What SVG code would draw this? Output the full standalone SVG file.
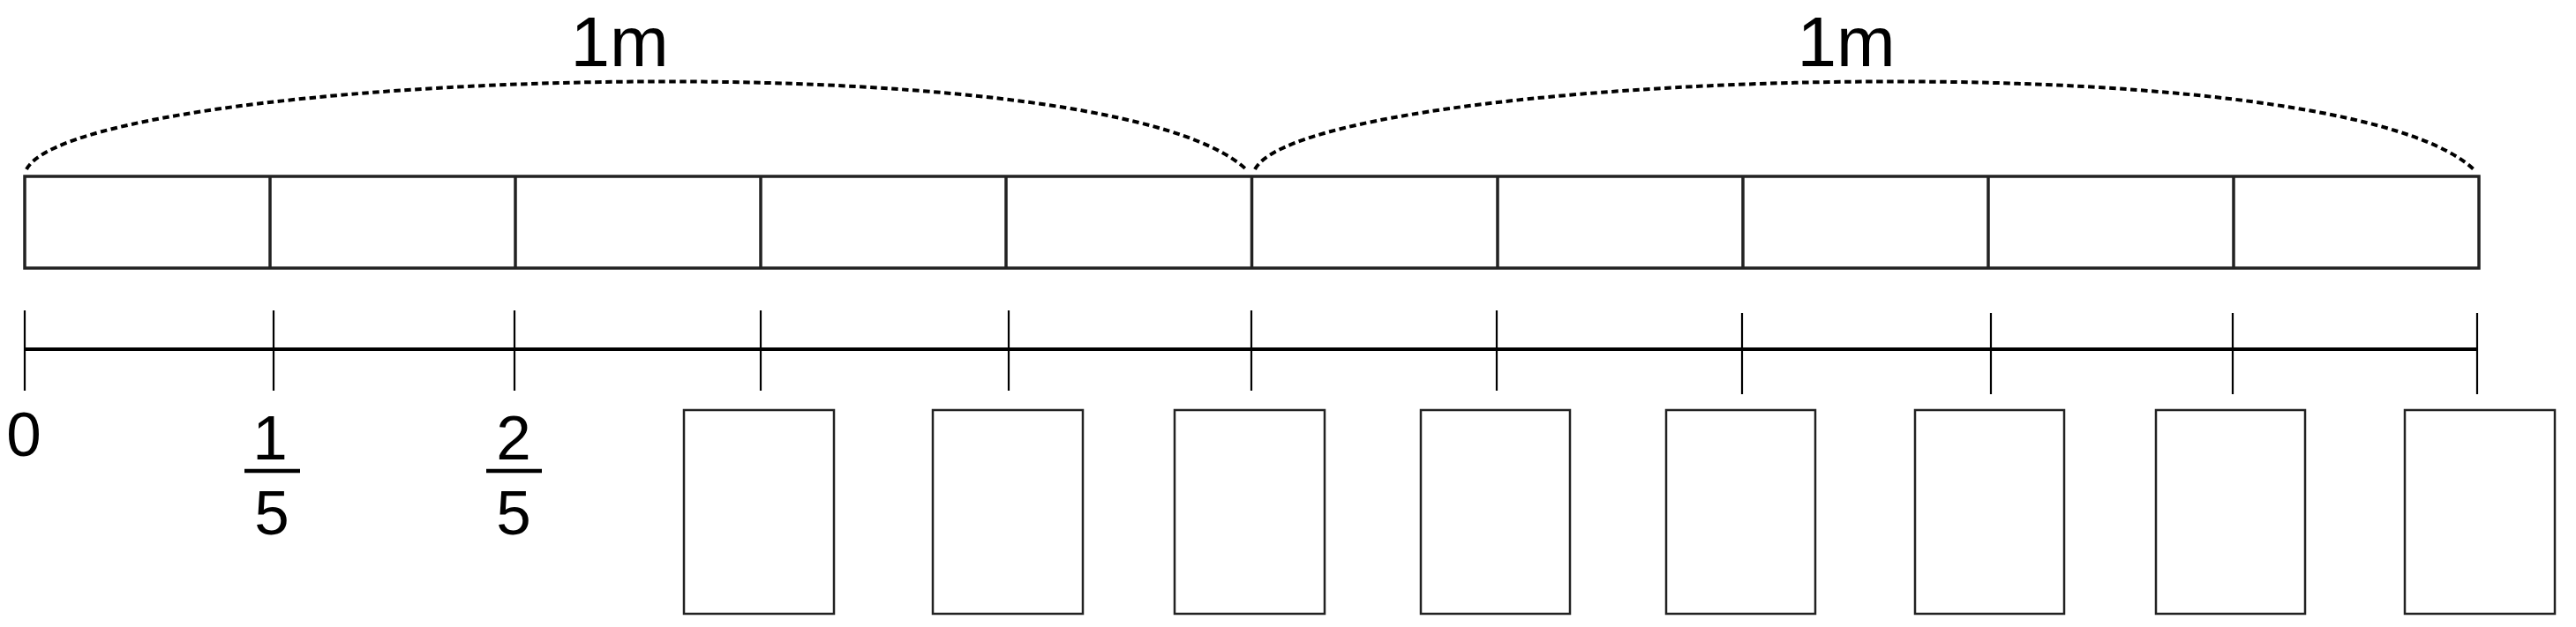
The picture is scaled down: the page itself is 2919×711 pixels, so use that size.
<svg xmlns="http://www.w3.org/2000/svg" width="2919" height="711" viewBox="0 0 2919 711">
<style>
.bar{fill:none;stroke:#222;stroke-width:3.5}
.box{fill:#fff;stroke:#222;stroke-width:2.5}
.dash{fill:none;stroke:#000;stroke-width:4;stroke-dasharray:7.5 4.5}
.axis{stroke:#000;stroke-width:4}
.tick{stroke:#000;stroke-width:2.2}
.frac{stroke:#000;stroke-width:4.5}
text{font-family:"Liberation Sans",Arial,sans-serif;fill:#000;text-anchor:middle}
.lab{font-size:80px}
.num{font-size:71px}
</style>
<rect width="2919" height="711" fill="#fff"/>
<g id="bar">
<rect class="bar" x="28" y="200" width="2781" height="104"/>
<path class="bar" d="M306 200V304M584 200V304M862 200V304M1140 200V304M1418.5 200V304M1697 200V304M1975 200V304M2253 200V304M2531 200V304"/>
</g>
<g id="connectors">
<path class="dash" d="M30 192C90 80 1250 40 1412 192"/>
<path class="dash" d="M1422 192C1482 80 2641 40 2803 192"/>
</g>
<g id="label-1m-a"><text class="lab" x="702" y="75">1m</text></g>
<g id="label-1m-b"><text class="lab" x="2092" y="75">1m</text></g>
<g id="numberline">
<line class="axis" x1="28" y1="396" x2="2807" y2="396"/>
<path class="tick" d="M28 352V443M310 352V443M583 352V443M862 352V443M1143 352V443M1418 352V443M1696 352V443M1974 355V447M2256 355V447M2530 355V447M2807 355V447"/>
</g>
<g id="label-0"><text class="num" x="27" y="517">0</text></g>
<g id="label-1-5">
<text class="num" x="306" y="521">1</text>
<line class="frac" x1="277" y1="534" x2="340" y2="534"/>
<text class="num" x="308" y="606">5</text>
</g>
<g id="label-2-5">
<text class="num" x="582" y="521">2</text>
<line class="frac" x1="551" y1="534" x2="614" y2="534"/>
<text class="num" x="582" y="606">5</text>
</g>
<g id="box-1"><rect class="box" x="775" y="465" width="170" height="231"/></g>
<g id="box-2"><rect class="box" x="1057" y="465" width="170" height="231"/></g>
<g id="box-3"><rect class="box" x="1331" y="465" width="170" height="231"/></g>
<g id="box-4"><rect class="box" x="1610" y="465" width="169" height="231"/></g>
<g id="box-5"><rect class="box" x="1888" y="465" width="169" height="231"/></g>
<g id="box-6"><rect class="box" x="2170" y="465" width="169" height="231"/></g>
<g id="box-7"><rect class="box" x="2443" y="465" width="169" height="231"/></g>
<g id="box-8"><rect class="box" x="2725" y="465" width="170" height="231"/></g>
</svg>
